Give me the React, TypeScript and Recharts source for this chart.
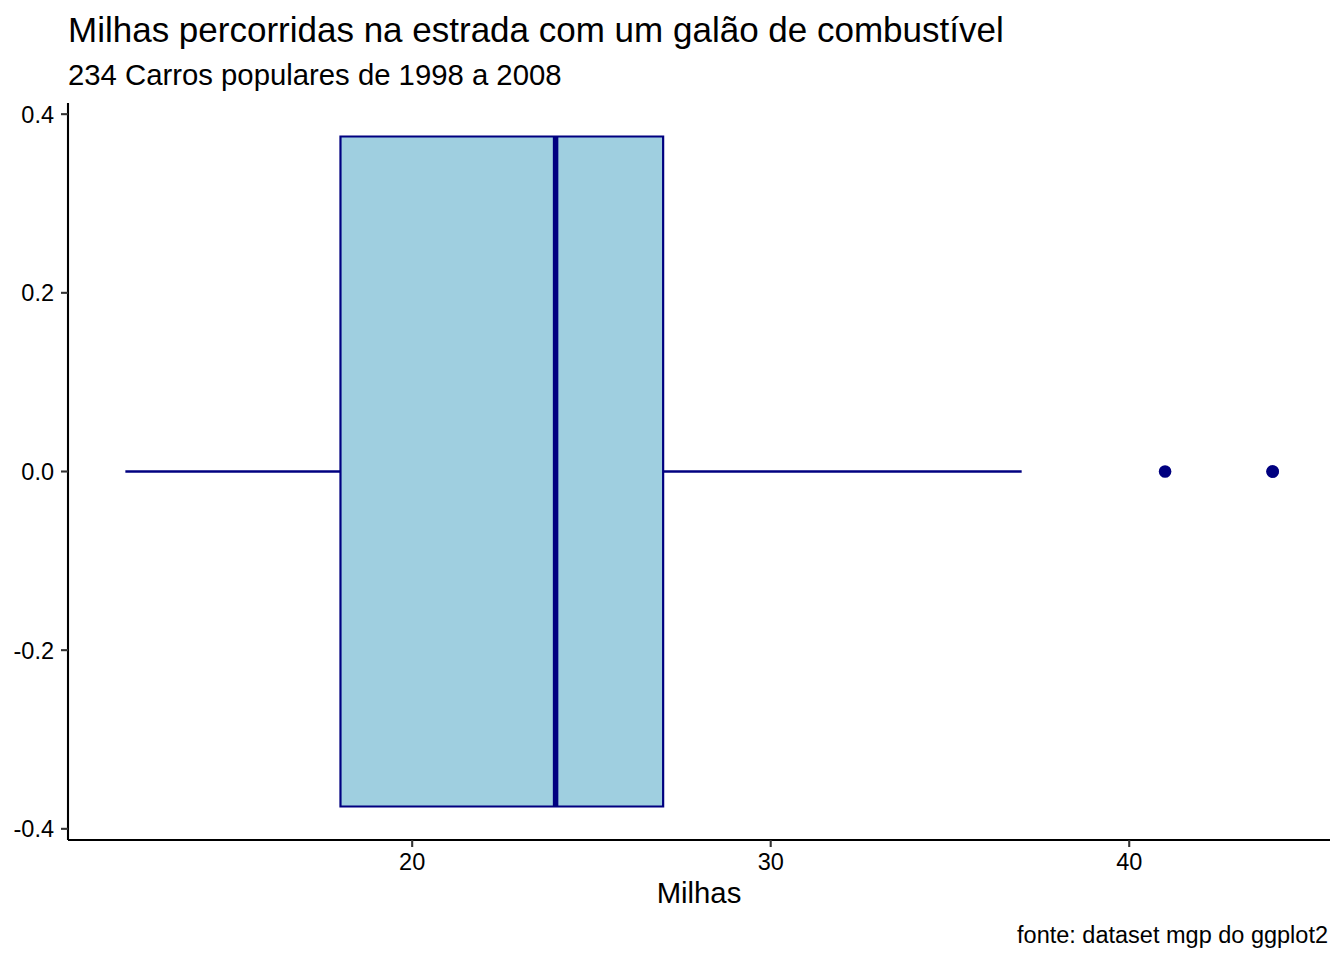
import React from "react";
import {
  ComposedChart,
  XAxis,
  YAxis,
  Scatter,
  ReferenceArea,
  ReferenceLine,
} from "recharts";

// hwy do dataset mpg (234 carros)
const quartis = [18, 24, 27]; // Q1, mediana, Q3
const bigodes = [12, 37]; // limite inferior, superior
const outliers = [41, 44, 44];
const xTicks = [20, 30, 40];
const yTicks = [-0.4, -0.2, 0, 0.2, 0.4];
const xDomain = [10.4, 45.6];
const yDomain = [-0.4125, 0.4125];

const FONT = "'Liberation Sans', Arial, Helvetica, sans-serif";
const NAVY = "#000080";
const FILL = "#9fcfe0";
const HALF = 0.375;

const pontos = outliers.map(v => ({ x: v, y: 0 }));

function Dot(props: any) {
  return <circle cx={props.cx} cy={props.cy} r={6.3} fill={NAVY} />;
}

export default function App() {
  const [q1, med, q3] = quartis;
  const [lo, hi] = bigodes;
  return (
    <div style={{ position: "absolute", left: 0, top: 0, width: 1344, height: 960, background: "#fff", fontFamily: FONT }}>
      <div style={{ position: "absolute", left: 68, top: 10, fontSize: 35, lineHeight: "40px", color: "#000", whiteSpace: "nowrap" }}>
        Milhas percorridas na estrada com um galão de combustível
      </div>
      <div style={{ position: "absolute", left: 68, top: 58, fontSize: 29.3, lineHeight: "34px", color: "#000", whiteSpace: "nowrap" }}>
        234 Carros populares de 1998 a 2008
      </div>
      <ComposedChart
        width={1344}
        height={960}
        margin={{ top: 103, right: 14, bottom: 40, left: 0 }}
        style={{ position: "absolute", left: 0, top: 0 }}
      >
        <XAxis
          type="number"
          dataKey="x"
          domain={xDomain}
          ticks={xTicks}
          allowDataOverflow
          height={80}
          tickSize={7}
          tickMargin={6}
          axisLine={{ stroke: "#000", strokeWidth: 2.1 }}
          tickLine={{ stroke: "#333", strokeWidth: 2.1 }}
          tick={{ fill: "#000", fontSize: 23.5, fontFamily: FONT }}
          label={{ value: "Milhas", position: "insideBottom", offset: 17, fill: "#000", fontSize: 29.3, fontFamily: FONT }}
        />
        <YAxis
          type="number"
          dataKey="y"
          domain={yDomain}
          ticks={yTicks}
          allowDataOverflow
          width={68}
          tickSize={7}
          tickMargin={7}
          tickFormatter={(v: number) => v.toFixed(1)}
          axisLine={{ stroke: "#000", strokeWidth: 2.1 }}
          tickLine={{ stroke: "#333", strokeWidth: 2.1 }}
          tick={{ fill: "#000", fontSize: 23.5, fontFamily: FONT }}
        />
        <ReferenceLine
          segment={[{ x: lo, y: 0 }, { x: q1, y: 0 }]}
          stroke={NAVY}
          strokeWidth={2.4}
        />
        <ReferenceLine
          segment={[{ x: q3, y: 0 }, { x: hi, y: 0 }]}
          stroke={NAVY}
          strokeWidth={2.4}
        />
        <ReferenceArea
          x1={q1}
          x2={q3}
          y1={-HALF}
          y2={HALF}
          fill={FILL}
          fillOpacity={1}
          stroke={NAVY}
          strokeWidth={2.2}
        />
        <ReferenceLine
          segment={[{ x: med, y: -HALF }, { x: med, y: HALF }]}
          stroke={NAVY}
          strokeWidth={5.5}
        />
        <Scatter data={pontos} shape={<Dot />} isAnimationActive={false} />
      </ComposedChart>
      <div style={{ position: "absolute", right: 16, top: 921, fontSize: 23.5, lineHeight: "28px", color: "#000", whiteSpace: "nowrap" }}>
        fonte: dataset mgp do ggplot2
      </div>
    </div>
  );
}
